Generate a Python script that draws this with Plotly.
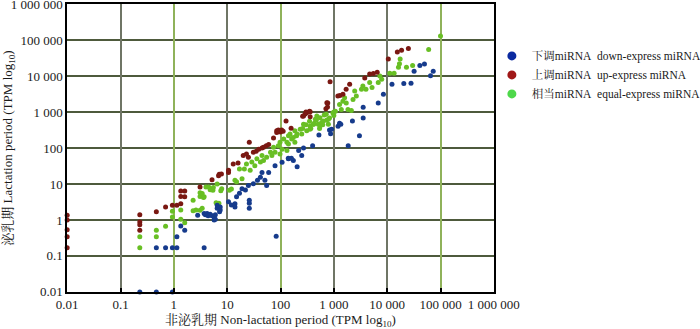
import plotly.graph_objects as go

# ---- data (TPM values) ----
down_x = [0.23, 0.47, 0.94, 0.47, 0.7, 0.94, 1.14, 3.7, 1.14, 1.35, 1.6, 2.8, 3.7, 3.9, 4.2, 4.4, 4.8, 5.2,
          5.7, 5.7, 6.0, 6.0, 6.5, 6.5, 7.2, 7.4, 7.4, 10.6, 12, 14, 14, 15, 17, 19, 22, 25, 26, 26, 26, 31,
          37, 42, 45, 51, 55, 60, 79, 83, 107, 141, 174, 205, 219, 140, 160, 250, 270, 400, 525, 830, 870,
          910, 1200, 1280, 1350, 1860, 2230, 3020, 3550, 3550, 6800, 8500, 12300, 20500, 28000, 32000,
          41000, 50000, 65000, 73000]
down_y = [0.01, 0.01, 0.01, 0.17, 0.17, 0.17, 0.17, 0.17, 0.34, 0.68, 0.52, 1.35, 1.5, 1.4, 1.5, 1.3, 1.45, 1.3,
          1.0, 1.2, 1.05, 1.4, 2.1, 2.55, 1.7, 2.3, 1.9, 3.2, 2.6, 2.8, 2.3, 4.4, 5.5, 7.4, 6.8, 9.1, 2.9, 3.5, 2.1, 10.2,
          12.6, 15.5, 21, 12.6, 9.1, 21, 32, 0.35, 40, 50, 45, 30, 85, 52, 52, 62, 100, 115, 230, 316, 250,
          330, 400, 490, 460, 115, 560, 220, 680, 1350, 1780, 3100, 5900, 6200, 6300, 13500,
          19500, 21800, 10200, 13500]

up_x = [0.01, 0.01, 0.01, 0.01, 0.01, 0.23, 0.23, 0.23, 0.23, 0.47, 0.7, 0.94, 1.14, 1.35, 1.35, 1.35, 1.6, 1.6,
        3.1, 5.2, 6.9, 7.1, 7.8, 10.6, 10.6, 13, 16, 20, 23, 25, 26, 31, 35, 39, 45, 48, 54, 60, 74, 85, 85, 91,
        95, 100, 105, 112, 127, 158, 260, 270, 290, 300, 310, 350, 360, 360, 710, 740, 760, 770, 850, 1190,
        1300, 1480, 1700, 1980, 3800, 4700, 5500, 6500, 10500, 15500, 18600, 25000]
up_y = [1.35, 1.0, 0.53, 0.34, 0.17, 1.4, 0.88, 0.74, 0.52, 1.7, 2.3, 2.55, 2.55, 6.4, 4.5, 2.8, 6.4, 4.4,
        8.3, 13, 17, 18.5, 19, 21, 24, 36, 38, 62, 68, 55, 144, 76, 81, 93, 100, 105, 115, 125, 190, 270, 300, 316,
        290, 280, 316, 290, 560, 355, 760, 780, 880, 1000, 960, 1050, 1020, 740, 1230, 1800, 1380, 1780, 6900, 2770,
        2900, 3100, 4300, 5900, 8800, 11400, 11800, 12700, 30000, 47000, 52000, 58000]

equal_x = [0.23, 0.23, 0.47, 0.47, 0.7, 0.94, 0.94, 1.35, 1.35, 1.6, 2.3, 2.3, 2.6, 3.1, 3.1, 3.1, 3.4, 3.6, 3.4,
           3.7, 4.0, 4.5, 4.8, 5.4, 5.5, 6.2, 6.5, 7.0, 7.6, 7.9, 11, 12, 14, 15, 17, 19, 21, 23, 27, 29, 33, 36,
           42, 45, 48, 55, 65, 69, 74, 79, 91, 98, 98, 107, 115, 132, 132, 141, 141, 151, 162, 174, 186, 186, 200,
           204, 234, 250, 260, 270, 300, 310, 350, 355, 360, 370, 410, 417, 430, 450, 470, 480, 510, 540, 550, 550,
           590, 620, 630, 660, 720, 730, 790, 790, 830, 960, 1000, 1000, 1070, 1280, 1380, 1480, 1590, 1710, 1840,
           2130, 2290, 2460, 2640, 3300, 3500, 4000, 4700, 5200, 6800, 7300, 7900, 11200, 13500, 16300, 17000,
           17500, 23000, 30000, 60000, 100000]
equal_y = [0.34, 0.17, 0.52, 0.34, 0.67, 1.75, 1.2, 1.9, 1.05, 0.84, 3.5, 1.8, 1.9, 5.7, 4.5, 1.85, 5.4, 4.2, 2.1,
           4.4, 8.3, 8.3, 6.9, 6.7, 8.0, 3.0, 10, 2.9, 6.5, 7.4, 6.7, 7.3, 12.6, 11.5, 26, 14, 26, 36, 24, 41, 32, 50,
           41, 62, 45, 55, 76, 62, 105, 76, 115, 144, 68, 93, 178, 144, 85, 219, 129, 245, 178, 195, 300, 144, 219,
           245, 330, 245, 350, 460, 440, 300, 550, 330, 410, 350, 460, 460, 490, 630, 600, 780, 460, 350, 690, 410,
           510, 440, 560, 830, 870, 590, 460, 630, 680, 940, 1000, 800, 1050, 1620, 1170, 2000, 2500, 1780, 1170,
           1100, 2240, 3850, 2770, 4300, 5300, 4300, 6600, 4800, 6600, 10000, 8200, 12000, 12000, 17600, 22000,
           30000, 17700, 19700, 55000, 130000]

tick_vals = [0.01, 0.1, 1, 10, 100, 1000, 10000, 100000, 1000000]
tick_text = ["0.01", "0.1", "1", "10", "100", "1 000", "10 000", "100 000", "1 000 000"]
grid_gray_x = [0.1, 10, 1000, 10000]
grid_green_x = [1, 100, 100000]
grid_y = [0.1, 1, 10, 100, 1000, 10000, 100000]

legend_names = ["下调miRNA\u00a0\u00a0down-express miRNA",
                "上调miRNA\u00a0\u00a0up-express miRNA",
                "相当miRNA\u00a0\u00a0equal-express miRNA"]

SERIF = "Liberation Serif, Times New Roman, Noto Serif CJK SC, Noto Sans CJK SC, serif"
TXT = "#1a1a1a"

c_down = "#163b8c"
c_up = "#7a1812"
c_equal = "#68bf24"

fig = go.Figure()

# grid helper traces (empty) on overlay axes
fig.add_trace(go.Scatter(x=[], y=[], xaxis="x2", yaxis="y", showlegend=False, hoverinfo="skip"))
fig.add_trace(go.Scatter(x=[], y=[], xaxis="x3", yaxis="y", showlegend=False, hoverinfo="skip"))
fig.add_trace(go.Scatter(x=[], y=[], xaxis="x", yaxis="y2", showlegend=False, hoverinfo="skip"))

mk = dict(size=5, line=dict(width=0))
fig.add_trace(go.Scatter(x=equal_x, y=equal_y, mode="markers", marker=dict(color=c_equal, **mk),
                         showlegend=False, cliponaxis=False))
fig.add_trace(go.Scatter(x=down_x, y=down_y, mode="markers", marker=dict(color=c_down, **mk),
                         showlegend=False, cliponaxis=False))
fig.add_trace(go.Scatter(x=up_x, y=up_y, mode="markers", marker=dict(color=c_up, **mk),
                         showlegend=False, cliponaxis=False))

# legend entries (larger symbols)
for name, col in zip(legend_names, ["#0b2aa0", "#a01818", "#4ed84a"]):
    fig.add_trace(go.Scatter(x=[None], y=[None], mode="markers", name=name,
                             marker=dict(color=col, size=9)))

RNG = [-2.003, 6.003]
axis_common = dict(type="log", range=RNG, showline=True, linecolor="black", linewidth=1.5,
                   mirror=True, zeroline=False)

fig.update_layout(
    width=700, height=329,
    margin=dict(l=67, r=206, t=4, b=37, autoexpand=False),
    paper_bgcolor="white", plot_bgcolor="white",
    font=dict(family=SERIF, size=13, color=TXT),
    xaxis=dict(**axis_common, tickvals=tick_vals, ticktext=tick_text, showgrid=False,
               ticks="inside", ticklen=4, tickcolor="black", tickwidth=1.5, tickangle=0,
               ticklabeloverflow="allow",
               tickfont=dict(family=SERIF, size=13, color=TXT),
               title=dict(text="非泌乳期 Non-lactation period (TPM log<sub>10</sub>)",
                          font=dict(family=SERIF, size=13, color=TXT), standoff=7),
               automargin=False),
    xaxis2=dict(type="log", range=RNG, overlaying="x", tickvals=grid_gray_x, showticklabels=False,
                showgrid=True, gridcolor="#6f7565", gridwidth=1.5, ticks="", showline=False, zeroline=False),
    xaxis3=dict(type="log", range=RNG, overlaying="x", tickvals=grid_green_x, showticklabels=False,
                showgrid=True, gridcolor="#8fb25a", gridwidth=1.5, ticks="", showline=False, zeroline=False),
    yaxis=dict(**axis_common, tickvals=tick_vals, ticktext=tick_text, showgrid=False,
               ticks="", ticklabeloverflow="allow",
               tickfont=dict(family=SERIF, size=13, color=TXT),
               title=dict(text="泌乳期 Lactation period (TPM log<sub>10</sub>)",
                          font=dict(family=SERIF, size=13, color=TXT), standoff=2),
               automargin=False),
    yaxis2=dict(type="log", range=RNG, overlaying="y", tickvals=grid_y, showticklabels=False,
                showgrid=True, gridcolor="#4e5a3c", gridwidth=1.5, ticks="", showline=False, zeroline=False),
    legend=dict(x=0.995, xanchor="left", y=0.87, yanchor="top", bgcolor="rgba(0,0,0,0)",
                font=dict(family=SERIF, size=11.5, color=TXT), tracegroupgap=0,
                itemsizing="trace"),
)

fig.write_html("out.html", config={"displayModeBar": False},
               post_script="document.body.style.margin='0';")
